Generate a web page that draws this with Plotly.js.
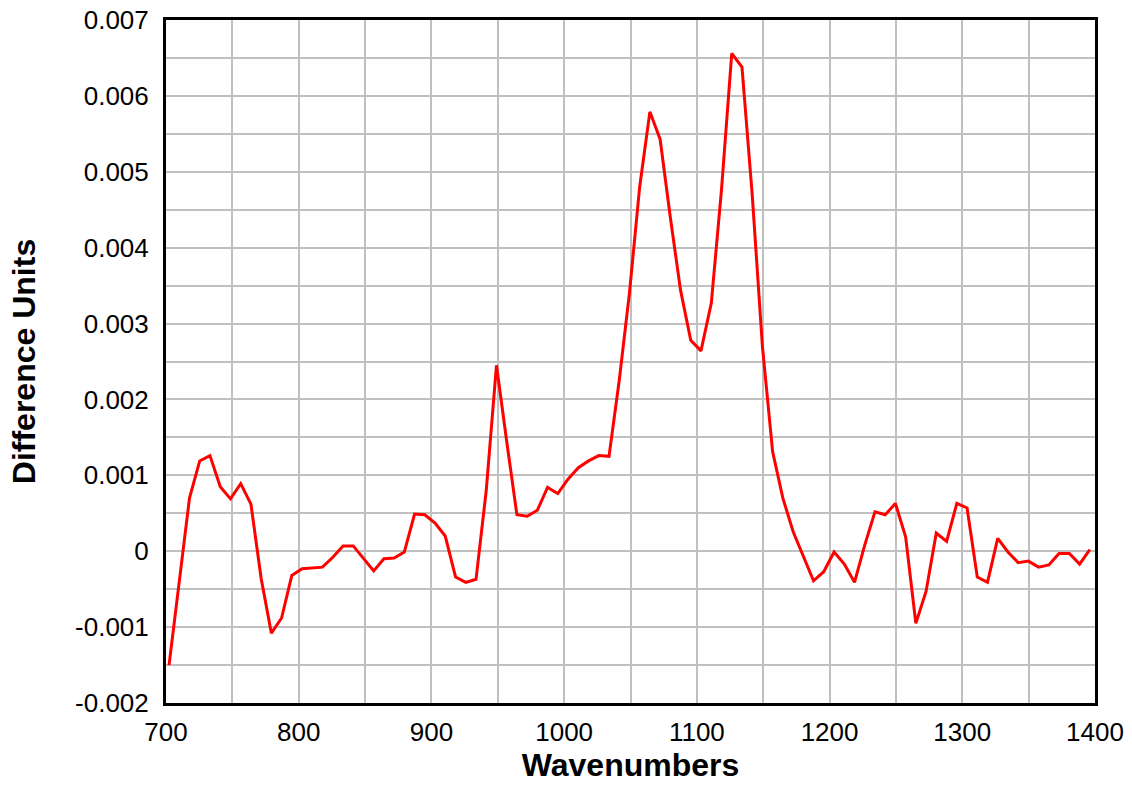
<!DOCTYPE html>
<html>
<head>
<meta charset="utf-8">
<script src="https://cdn.plot.ly/plotly-3.0.1.min.js"></script>
<style>html,body{margin:0;padding:0;background:#fff;}#chart{width:1132px;height:788px;}</style>
</head>
<body>
<div id="chart"></div>
<script>
const wavenumbers = [702.3,710.0,717.7,725.4,733.1,740.9,748.6,756.3,764.0,771.7,779.4,787.1,794.8,802.5,810.2,817.9,825.7,833.4,841.1,848.8,856.5,864.2,871.9,879.6,887.3,895.0,902.7,910.4,918.2,925.9,933.6,941.3,949.0,956.7,964.4,972.1,979.8,987.5,995.2,1002.9,1010.7,1018.4,1026.1,1033.8,1041.5,1049.2,1056.9,1064.6,1072.3,1080.0,1087.7,1095.4,1103.1,1110.9,1118.6,1126.3,1134.0,1141.7,1149.4,1157.1,1164.8,1172.5,1180.2,1187.9,1195.6,1203.4,1211.1,1218.8,1226.5,1234.2,1241.9,1249.6,1257.3,1265.0,1272.7,1280.4,1288.2,1295.9,1303.6,1311.3,1319.0,1326.7,1334.4,1342.1,1349.8,1357.5,1365.2,1372.9,1380.7,1388.4,1396.1];
const differenceUnits = [-0.00150,-0.00040,0.00070,0.00119,0.00126,0.00085,0.00069,0.00089,0.00062,-0.00036,-0.00108,-0.00088,-0.00032,-0.00023,-0.00022,-0.00021,-0.00008,0.00007,0.00007,-0.00009,-0.00026,-0.00010,-0.00009,-0.00001,0.00049,0.00048,0.00037,0.00020,-0.00034,-0.00041,-0.00037,0.00080,0.00245,0.00145,0.00048,0.00046,0.00054,0.00084,0.00076,0.00095,0.00110,0.00119,0.00126,0.00125,0.00225,0.00340,0.00480,0.00579,0.00543,0.00440,0.00344,0.00278,0.00264,0.00327,0.00477,0.00656,0.00638,0.00470,0.00270,0.00131,0.00070,0.00026,-0.00007,-0.00039,-0.00027,-0.00001,-0.00017,-0.00041,0.00008,0.00052,0.00048,0.00063,0.00019,-0.00095,-0.00053,0.00024,0.00013,0.00063,0.00057,-0.00034,-0.00041,0.00017,-0.00001,-0.00015,-0.00013,-0.00021,-0.00018,-0.00003,-0.00003,-0.00017,0.00002];
const xTickVals = [700,800,900,1000,1100,1200,1300,1400];
const xTickText = ['700','800','900','1000','1100','1200','1300','1400'];
const yTickVals = [-0.002,-0.001,0,0.001,0.002,0.003,0.004,0.005,0.006,0.007];
const yTickText = ['-0.002','-0.001','0','0.001','0.002','0.003','0.004','0.005','0.006','0.007'];

const font = 'Liberation Sans, Arial, sans-serif';
Plotly.newPlot('chart', [{
  x: wavenumbers, y: differenceUnits, type: 'scatter', mode: 'lines',
  line: {color: '#ff0000', width: 3}, hoverinfo: 'x+y'
}], {
  width: 1132, height: 788,
  margin: {l: 166, r: 37, t: 20, b: 85},
  paper_bgcolor: '#fff', plot_bgcolor: '#fff',
  showlegend: false,
  font: {family: font, color: '#000', size: 26},
  xaxis: {
    range: [700, 1400], tickvals: xTickVals, ticktext: xTickText,
    showgrid: true, gridcolor: '#c0c0c0', gridwidth: 2,
    minor: {dtick: 50, tick0: 700, showgrid: true, gridcolor: '#c0c0c0', gridwidth: 2},
    showline: true, linecolor: '#000', linewidth: 3, mirror: true,
    ticks: '', zeroline: false, ticklabelstandoff: 4,
    tickfont: {family: font, size: 26, color: '#000'},
    title: {text: '<b>Wavenumbers</b>', font: {family: font, size: 32, color: '#000'}, standoff: 8}
  },
  yaxis: {
    range: [-0.002, 0.007], tickvals: yTickVals, ticktext: yTickText,
    showgrid: true, gridcolor: '#c0c0c0', gridwidth: 2,
    minor: {dtick: 0.0005, tick0: 0, showgrid: true, gridcolor: '#c0c0c0', gridwidth: 2},
    showline: true, linecolor: '#000', linewidth: 3, mirror: true,
    ticks: '', zeroline: false, ticklabelstandoff: 9,
    tickfont: {family: font, size: 26, color: '#000'},
    title: {text: '<b>Difference Units</b>', font: {family: font, size: 32, color: '#000'}, standoff: 30}
  }
}, {displayModeBar: false});
</script>
</body>
</html>
